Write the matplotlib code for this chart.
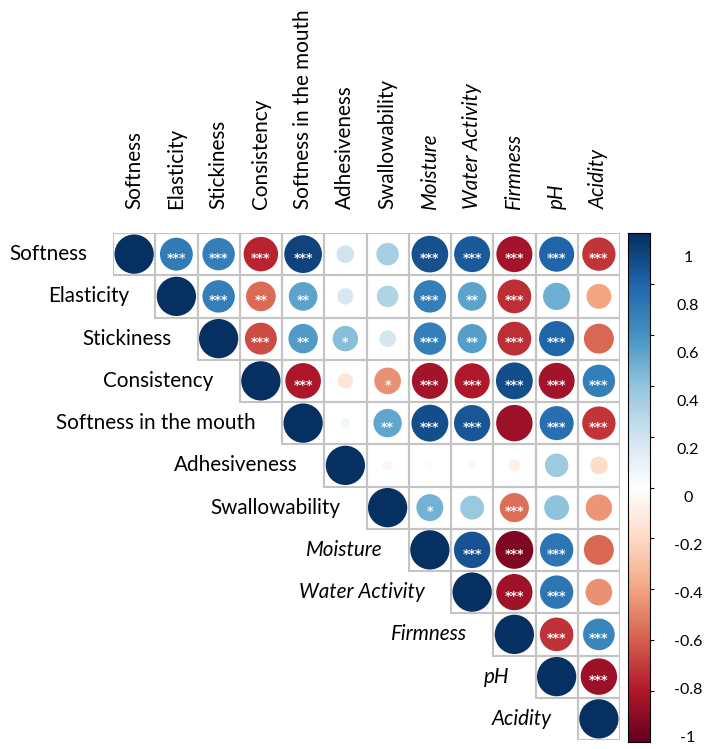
import numpy as np
import matplotlib
matplotlib.use('Agg')
import matplotlib.pyplot as plt
import matplotlib.transforms as mtransforms
from matplotlib.colors import LinearSegmentedColormap, Normalize
from matplotlib.patches import Rectangle, Circle

plt.rcParams['font.family'] = ['Lato', 'DejaVu Sans']

# variables (last five are shown in italics)
labels = ['Softness', 'Elasticity', 'Stickiness', 'Consistency', 'Softness in the mouth',
          'Adhesiveness', 'Swallowability', 'Moisture', 'Water Activity', 'Firmness',
          'pH', 'Acidity']
italic = [False] * 7 + [True] * 5

# upper triangle correlations, row by row (columns to the right of the diagonal)
r_rows = [
    [0.70, 0.68, -0.77, 0.92, 0.20, 0.33, 0.87, 0.84, -0.84, 0.80, -0.72],
    [0.68, -0.57, 0.53, 0.17, 0.30, 0.68, 0.53, -0.74, 0.48, -0.40],
    [-0.66, 0.56, 0.42, 0.18, 0.68, 0.55, -0.74, 0.80, -0.58],
    [-0.82, -0.15, -0.46, -0.84, -0.80, 0.88, -0.84, 0.68],
    [0.06, 0.52, 0.88, 0.85, -0.86, 0.75, -0.72],
    [-0.06, -0.03, 0.04, -0.09, 0.36, -0.20],
    [0.47, 0.37, -0.55, 0.40, -0.45],
    [0.86, -0.93, 0.72, -0.58],
    [-0.85, 0.72, -0.46],
    [-0.73, 0.65],
    [-0.86],
]
stars_rows = [
    ['***', '***', '***', '***', '', '', '***', '***', '***', '***', '***'],
    ['***', '**', '**', '', '', '***', '**', '***', '', ''],
    ['***', '**', '*', '', '***', '**', '***', '***', ''],
    ['***', '', '*', '***', '***', '***', '***', '***'],
    ['', '**', '***', '***', '', '***', '***'],
    ['', '', '', '', '', ''],
    ['*', '', '***', '', ''],
    ['***', '***', '***', ''],
    ['***', '***', ''],
    ['***', '***'],
    ['***'],
]
cbar_values = [1, 0.8, 0.6, 0.4, 0.2, 0, -0.2, -0.4, -0.6, -0.8, -1]

n = len(labels)
R = np.eye(n)
S = [[''] * n for _ in range(n)]
for i in range(n - 1):
    for k, (r, s) in enumerate(zip(r_rows[i], stars_rows[i])):
        R[i, i + 1 + k] = r
        S[i][i + 1 + k] = s

cmap = LinearSegmentedColormap.from_list('corr', ['#67001F', '#B2182B', '#D6604D', '#F4A582', '#FDDBC7',
                                                  '#FFFFFF', '#D1E5F0', '#92C5DE', '#4393C3', '#2166AC',
                                                  '#053061'], N=200)
norm = Normalize(-1, 1)

W, H = 705, 749
fig = plt.figure(figsize=(W / 100, H / 100), dpi=100)
ax = fig.add_axes([113 / W, 1 - 740 / H, 507 / W, 507 / H])
ax.set_xlim(0, n)
ax.set_ylim(n, 0)
ax.axis('off')

for i in range(n):
    for j in range(i, n):
        ax.add_patch(Rectangle((j, i), 1, 1, fill=False, edgecolor='#C4C4C4', lw=1.5))
        r = R[i, j]
        ax.add_patch(Circle((j + 0.5, i + 0.5), 0.465 * np.sqrt(abs(r)), color=cmap(norm(r)), lw=0))
        if S[i][j]:
            ax.text(j + 0.5, i + 0.6, S[i][j], color='white', fontsize=9, ha='center', va='center',
                    family='DejaVu Sans', fontweight='bold')

for i, lab in enumerate(labels):
    st = 'italic' if italic[i] else 'normal'
    ax.text(i - 0.62, i + 0.5, lab, ha='right', va='center', fontsize=14.9, style=st)
    ax.text(i + 0.5, -0.57, lab, ha='center', va='bottom', rotation=90, fontsize=14.9, style=st)

# colour bar
cax = fig.add_axes([628 / W, 1 - 742 / H, 22 / W, 509 / H])
grad = np.linspace(-1, 1, 400).reshape(-1, 1)
cax.imshow(grad, cmap=cmap, norm=norm, aspect='auto', extent=(0, 1, -1, 1), origin='lower')
cax.set_xlim(0, 1)
cax.set_ylim(-1, 1)
cax.set_xticks([])
cax.yaxis.tick_right()
cax.set_yticks(np.linspace(-1, 1, 11)[1:-1])
cax.set_yticklabels([])
cax.tick_params(axis='y', length=3, width=0.8, direction='out')
for sp in cax.spines.values():
    sp.set_linewidth(0.8)
trans = mtransforms.blended_transform_factory(cax.transAxes, cax.transData)
for v in cbar_values:
    txt = f'{v:g}'
    cax.text(2.73, 0.943 * v - 0.041, txt, transform=trans, ha='center', va='center', fontsize=11.5)

fig.savefig('out.png', dpi=100)
